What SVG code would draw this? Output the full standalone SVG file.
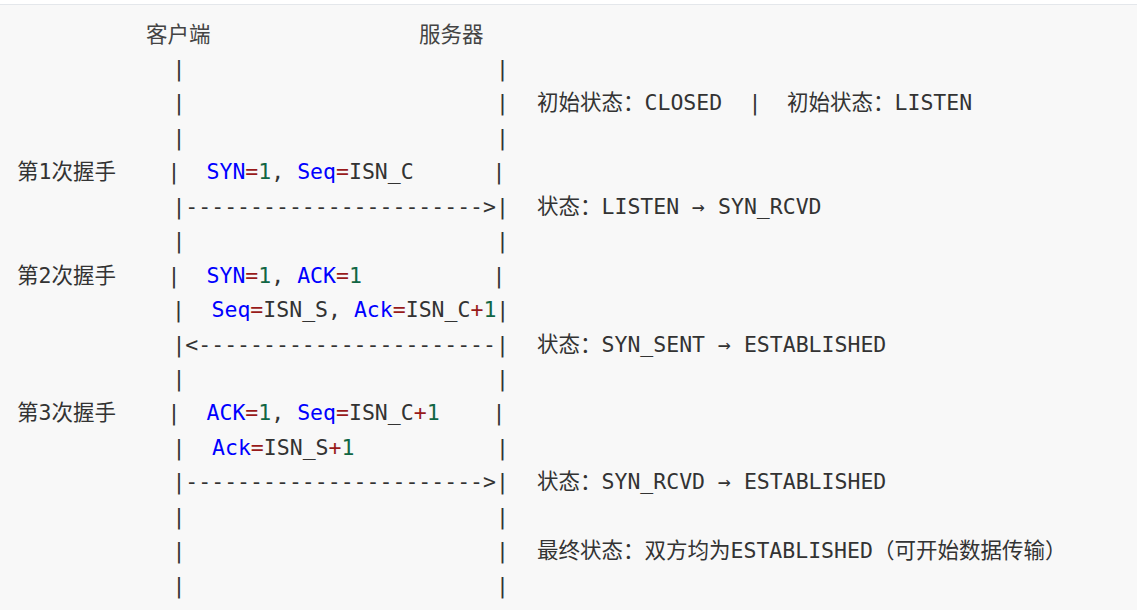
<svg xmlns="http://www.w3.org/2000/svg" width="1137" height="610" viewBox="0 0 1137 610">
  <style>
    .t { font-family: "DejaVu Sans Mono", "Noto Sans CJK SC", monospace; font-size: 21.5px; fill: #333333; white-space: pre; }
    .cj { font-family: "Noto Sans CJK SC", sans-serif; font-size: 21.5px; fill: #444444; }
    .k { fill: #0000ff; }
    .o { fill: #981a1a; }
    .n { fill: #116644; }
  </style>
  <rect x="0" y="0" width="1137" height="610" fill="#ffffff"/>
  <rect x="0" y="5" width="1137" height="605" fill="#f8f8f8"/>
  <line x1="0" y1="4.5" x2="1137" y2="4.5" stroke="#e4e7eb" stroke-width="1"/>

  <g transform="translate(0,1.5)">
  <g id="header">
    <text class="cj" x="146" y="40">客户端</text>
    <text class="cj" x="419" y="40">服务器</text>
  </g>

  <g id="client-lifeline">
    <text class="t" x="172.4" y="74.4">|</text>
    <text class="t" x="172.4" y="108.9">|</text>
    <text class="t" x="172.4" y="143.3">|</text>
    <text class="t" x="167.5" y="177.8">|</text>
    <text class="t" x="172.4" y="246.6">|</text>
    <text class="t" x="167.5" y="281.1">|</text>
    <text class="t" x="172" y="315.5">|</text>
    <text class="t" x="172.4" y="384.4">|</text>
    <text class="t" x="167.5" y="418.8">|</text>
    <text class="t" x="172.4" y="453.3">|</text>
    <text class="t" x="172.4" y="522.2">|</text>
    <text class="t" x="172.4" y="556.6">|</text>
    <text class="t" x="172.4" y="591">|</text>
  </g>

  <g id="server-lifeline">
    <text class="t" x="495.9" y="74.4">|</text>
    <text class="t" x="495.9" y="108.9">|</text>
    <text class="t" x="495.9" y="143.3">|</text>
    <text class="t" x="492.5" y="177.8">|</text>
    <text class="t" x="495.9" y="246.6">|</text>
    <text class="t" x="492.5" y="281.1">|</text>
    <text class="t" x="495.9" y="384.4">|</text>
    <text class="t" x="492.5" y="418.8">|</text>
    <text class="t" x="496" y="453.3">|</text>
    <text class="t" x="495.9" y="522.2">|</text>
    <text class="t" x="495.9" y="556.6">|</text>
    <text class="t" x="495.9" y="591">|</text>
  </g>

  <g id="connectors">
    <text class="t" x="172.4" y="212.2">|-----------------------&gt;|</text>
    <text class="t" x="172.4" y="350">|&lt;-----------------------|</text>
    <text class="t" x="172.4" y="487.7">|-----------------------&gt;|</text>
  </g>

  <g id="handshake-1">
    <text class="t" x="17" y="177.8">第1次握手</text>
    <text class="t" x="206.5" y="177.8" xml:space="preserve"><tspan class="k">SYN</tspan><tspan class="o">=</tspan><tspan class="n">1</tspan>, <tspan class="k">Seq</tspan><tspan class="o">=</tspan>ISN_C</text>
  </g>

  <g id="handshake-2">
    <text class="t" x="17" y="281.1">第2次握手</text>
    <text class="t" x="206.5" y="281.1" xml:space="preserve"><tspan class="k">SYN</tspan><tspan class="o">=</tspan><tspan class="n">1</tspan>, <tspan class="k">ACK</tspan><tspan class="o">=</tspan><tspan class="n">1</tspan></text>
    <text class="t" x="211.5" y="315.5" xml:space="preserve"><tspan class="k">Seq</tspan><tspan class="o">=</tspan>ISN_S, <tspan class="k">Ack</tspan><tspan class="o">=</tspan>ISN_C<tspan class="o">+</tspan><tspan class="n">1</tspan>|</text>
  </g>

  <g id="handshake-3">
    <text class="t" x="17" y="418.8">第3次握手</text>
    <text class="t" x="206.5" y="418.8" xml:space="preserve"><tspan class="k">ACK</tspan><tspan class="o">=</tspan><tspan class="n">1</tspan>, <tspan class="k">Seq</tspan><tspan class="o">=</tspan>ISN_C<tspan class="o">+</tspan><tspan class="n">1</tspan></text>
    <text class="t" x="212" y="453.3" xml:space="preserve"><tspan class="k">Ack</tspan><tspan class="o">=</tspan>ISN_S<tspan class="o">+</tspan><tspan class="n">1</tspan></text>
  </g>

  <g id="states">
    <text class="t" x="537" y="108.9">初始状态：CLOSED</text>
    <text class="t" x="748.5" y="108.9">|</text>
    <text class="t" x="787" y="108.9">初始状态：LISTEN</text>
    <text class="t" x="537" y="212.2" xml:space="preserve">状态：LISTEN → SYN_RCVD</text>
    <text class="t" x="537" y="350" xml:space="preserve">状态：SYN_SENT → ESTABLISHED</text>
    <text class="t" x="537" y="487.7" xml:space="preserve">状态：SYN_RCVD → ESTABLISHED</text>
    <text class="t" x="537" y="556.6">最终状态：双方均为ESTABLISHED（可开始数据传输）</text>
  </g>
  </g>
</svg>
